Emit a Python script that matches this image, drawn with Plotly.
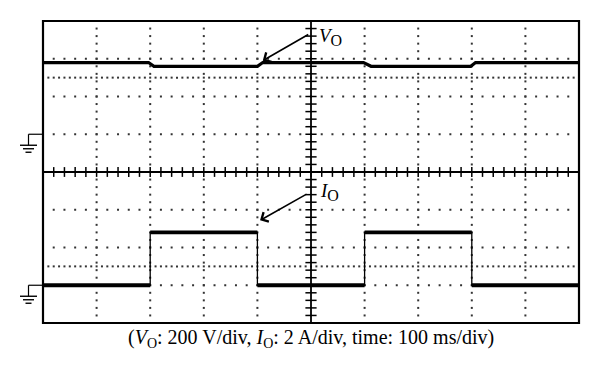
import numpy as np
import plotly.graph_objects as go

# ---- scope settings ----
V_PER_DIV = 200.0      # V/div
A_PER_DIV = 2.0        # A/div
MS_PER_DIV = 100.0     # ms/div
V_GND_DIV = 1.0        # ground marker of channel V_O (div)
I_GND_DIV = -3.0       # ground marker of channel I_O (div)

# ---- data ----
vo_time_ms = [0, 197, 207, 400, 410, 598, 612, 798, 807, 1000]
vo_volts = [380, 380, 360, 360, 380, 380, 360, 360, 380, 380]

io_time_ms = [0, 200, 400, 600, 800, 1000]
io_amps = [0, 2.8, 0, 2.8, 0, 0]

caption = "(<i>V</i><sub>O</sub>: 200 V/div, <i>I</i><sub>O</sub>: 2 A/div, time: 100 ms/div)"
vo_label = "<i>V</i><sub><span style='font-size:16px'>O</span></sub>"
io_label = "<i>I</i><sub><span style='font-size:16px'>O</span></sub>"

# ---- conversions to screen divisions ----
vo_div = [V_GND_DIV + v / V_PER_DIV for v in vo_volts]
io_div = [I_GND_DIV + a / A_PER_DIV for a in io_amps]

fig = go.Figure()

# graticule dots
gx, gy = [], []
for k in range(1, 10):
    if k == 5:
        continue
    for j in np.arange(-4, 4.001, 0.2):
        gx.append(k * MS_PER_DIV)
        gy.append(j)
for r in range(-3, 4):
    if r == 0:
        continue
    for j in np.arange(0, 1000.1, MS_PER_DIV / 5):
        gx.append(j)
        gy.append(r)
for r in (-2.5, 2.5):
    for j in np.arange(0, 1000.1, MS_PER_DIV / 10):
        gx.append(j)
        gy.append(r)
fig.add_trace(go.Scatter(x=gx, y=gy, mode="markers",
                         marker=dict(symbol="square", size=2, color="#333"),
                         hoverinfo="skip", showlegend=False))

# center cross with ticks
fig.add_trace(go.Scatter(x=[0, 1000], y=[0, 0], mode="lines",
                         line=dict(color="black", width=1.8), showlegend=False))
fig.add_trace(go.Scatter(x=[500, 500], y=[-4, 4], mode="lines",
                         line=dict(color="black", width=1.8), showlegend=False))
tx = list(np.arange(0, 1000.1, MS_PER_DIV / 5))
fig.add_trace(go.Scatter(x=tx, y=[0] * len(tx), mode="markers",
                         marker=dict(symbol="line-ns", size=7,
                                     line=dict(color="black", width=1.5)),
                         showlegend=False))
ty = list(np.arange(-4, 4.001, 0.2))
fig.add_trace(go.Scatter(x=[500] * len(ty), y=ty, mode="markers",
                         marker=dict(symbol="line-ew", size=8,
                                     line=dict(color="black", width=1.5)),
                         showlegend=False))

# V_O trace
fig.add_trace(go.Scatter(x=vo_time_ms, y=vo_div, mode="lines",
                         line=dict(color="black", width=3.2), showlegend=False))

# I_O trace: thin edges + thick levels
fig.add_trace(go.Scatter(x=io_time_ms, y=io_div, mode="lines", line_shape="hv",
                         line=dict(color="black", width=1.3), showlegend=False))
sx, sy = [], []
for i in range(len(io_time_ms) - 1):
    sx += [io_time_ms[i], io_time_ms[i + 1], None]
    sy += [io_div[i], io_div[i], None]
fig.add_trace(go.Scatter(x=sx, y=sy, mode="lines",
                         line=dict(color="black", width=3.8), showlegend=False))

# plot geometry (pixels); page body has an 8 px default margin
OFF = 8
PL, PR, PT, PB = 43, 579, 21, 323          # plot area in window pixels
W, H = 600 - OFF, 372 - OFF
L, R, T, B = PL - OFF, 600 - PR, PT - OFF, 372 - PB
pw, ph = PR - PL, PB - PT
px_per_div_y = ph / 8.0


def xp(px):
    return (px - PL) / pw


shapes = []
# ground symbols
for g in (V_GND_DIV, I_GND_DIV):
    d = 1.0 / px_per_div_y
    shapes.append(dict(type="line", xref="paper", yref="y", x0=xp(28.5), x1=xp(43), y0=g, y1=g,
                       line=dict(color="black", width=1.2)))
    shapes.append(dict(type="line", xref="paper", yref="y", x0=xp(28.5), x1=xp(28.5), y0=g, y1=g - 11 * d,
                       line=dict(color="black", width=1.2)))
    for off, a, b in ((11, 20, 37), (14.5, 23, 34), (18, 25.5, 31.5)):
        shapes.append(dict(type="line", xref="paper", yref="y", x0=xp(a), x1=xp(b),
                           y0=g - off * d, y1=g - off * d,
                           line=dict(color="black", width=1.4)))
# frame
shapes.append(dict(type="rect", xref="paper", yref="paper", x0=0, x1=1, y0=0, y1=1,
                   line=dict(color="black", width=2.2), layer="above"))

annotations = [
    dict(x=410, y=2.95, ax=47, ay=-27, xref="x", yref="y", text="", showarrow=True,
         arrowhead=4, arrowsize=1.3, arrowwidth=1.6, arrowcolor="black"),
    dict(x=511, y=3.58, xref="x", yref="y", text=vo_label, showarrow=False,
         xanchor="left", yanchor="middle",
         font=dict(family="Liberation Serif", size=19, color="black")),
    dict(x=405, y=-1.28, ax=48, ay=-27, xref="x", yref="y", text="", showarrow=True,
         arrowhead=4, arrowsize=1.3, arrowwidth=1.6, arrowcolor="black"),
    dict(x=513, y=-0.52, xref="x", yref="y", text=io_label, showarrow=False,
         xanchor="left", yanchor="middle",
         font=dict(family="Liberation Serif", size=19, color="black")),
    dict(x=0.5, y=-(338 - PB) / ph, xref="paper", yref="paper", text=caption,
         showarrow=False, xanchor="center", yanchor="middle",
         font=dict(family="Liberation Serif", size=20, color="black")),
]

fig.update_layout(
    width=W, height=H,
    margin=dict(l=L, r=R, t=T, b=B),
    paper_bgcolor="white", plot_bgcolor="white",
    xaxis=dict(range=[0, 1000], visible=False, fixedrange=True),
    yaxis=dict(range=[-4, 4], visible=False, fixedrange=True),
    shapes=shapes, annotations=annotations, showlegend=False,
)

fig.write_html("out.html")
